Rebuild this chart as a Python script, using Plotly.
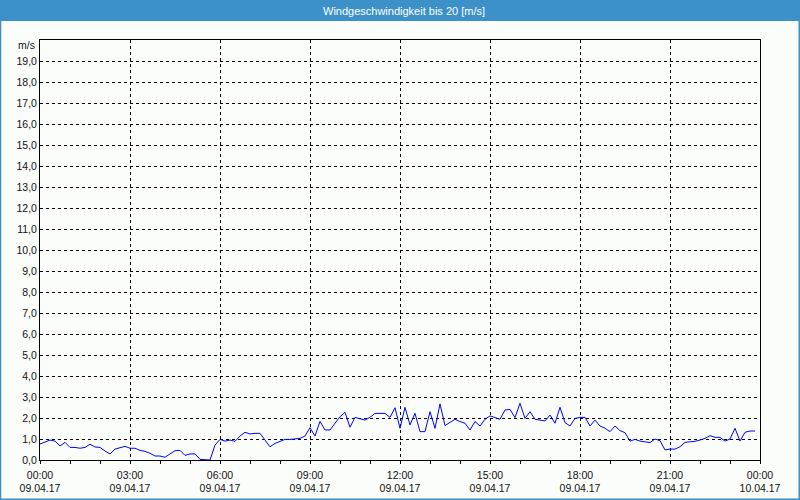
import pandas as pd
import plotly.graph_objects as go

# 10-minute wind speed readings, 09.04.17 00:00 .. 23:50
start_time = "2017-04-09 00:00"
wind_speed = [
    0.76, 0.87, 0.95, 0.90, 0.67, 0.84, 0.60, 0.60, 0.56, 0.60,
    0.75, 0.62, 0.60, 0.43, 0.29, 0.52, 0.60, 0.65, 0.56, 0.56,
    0.46, 0.41, 0.32, 0.19, 0.19, 0.13, 0.29, 0.44, 0.46, 0.22,
    0.29, 0.29, 0.03, 0.00, 0.00, 0.71, 0.98, 0.90, 0.95, 0.89,
    1.14, 1.32, 1.24, 1.27, 1.27, 0.95, 0.63, 0.79, 0.90, 0.98,
    0.98, 1.00, 1.03, 1.14, 1.54, 1.14, 1.84, 1.43, 1.43, 1.75,
    2.06, 2.27, 1.56, 2.03, 1.95, 1.90, 2.03, 2.22, 2.22, 2.22,
    2.03, 2.49, 1.51, 2.51, 1.67, 2.22, 1.35, 1.35, 2.30, 1.51,
    2.67, 1.64, 1.79, 1.94, 1.83, 1.75, 1.43, 1.83, 1.62, 1.94,
    2.10, 2.02, 1.94, 2.38, 2.41, 2.02, 2.70, 1.98, 2.30, 1.94,
    1.90, 1.86, 2.14, 1.75, 2.51, 1.78, 1.62, 1.98, 2.03, 2.03,
    1.62, 1.90, 1.62, 1.51, 1.35, 1.62, 1.40, 1.30, 0.90, 0.98,
    0.90, 0.87, 0.83, 1.00, 0.92, 0.48, 0.52, 0.52, 0.63, 0.84,
    0.86, 0.89, 0.95, 1.03, 1.16, 1.08, 1.08, 0.90, 1.00, 1.51,
    0.90, 1.32, 1.38, 1.38,
]
times = pd.date_range(start_time, periods=len(wind_speed), freq="10min")

y_ticks = list(range(0, 20))
title_text = "Windgeschwindigkeit bis 20 [m/s]"
unit_text = "m/s"

BLUE = "#3c91c8"
BG = "#fbfdfb"
FONT = "Tahoma, Liberation Sans, Arial, sans-serif"

fig = go.Figure()
fig.add_trace(go.Scatter(
    x=times, y=wind_speed, mode="lines",
    line=dict(color="#0000ff", width=1),
    hoverinfo="skip", showlegend=False,
))

W, H = 800, 500
L, R, T, B = 40, 40, 40, 40
pw, ph = W - L - R, H - T - B


def px(xp):
    return (xp - L) / pw


def py(yp):
    return (H - B - yp) / ph


fig.update_layout(
    width=W, height=H,
    margin=dict(l=L, r=R, t=T, b=B, autoexpand=False),
    paper_bgcolor=BG, plot_bgcolor=BG,
    separators=",.",
    font=dict(family=FONT, size=10, color="#111111"),
    showlegend=False,
    xaxis=dict(
        type="date",
        range=["2017-04-09 00:00", "2017-04-10 00:00"],
        dtick=3 * 3600 * 1000,
        tick0="2017-04-09 00:00",
        tickformat="%H:%M<br>%d.%m.%y",
        showgrid=True, gridcolor="#000000", gridwidth=1, griddash="dot",
        showline=True, linecolor="#000000", linewidth=1, mirror=True,
        ticks="outside", ticklen=3, tickcolor="#000000",
        minor=dict(dtick=3600 * 1000, ticks="outside", ticklen=3,
                   tickcolor="#000000", showgrid=False),
        zeroline=False, fixedrange=True, automargin=False,
        ticklabelstandoff=2,
        tickfont=dict(family=FONT, size=10.5, color="#111111"),
    ),
    yaxis=dict(
        range=[0, 20],
        tickvals=y_ticks,
        tickformat=".1f",
        showgrid=True, gridcolor="#000000", gridwidth=1, griddash="dot",
        showline=True, linecolor="#000000", linewidth=1, mirror=True,
        ticks="", zeroline=False, fixedrange=True, automargin=False,
        tickfont=dict(family=FONT, size=10.5, color="#111111"),
    ),
    shapes=[
        dict(type="rect", xref="paper", yref="paper",
             x0=px(0), x1=px(W), y0=py(21), y1=py(0),
             fillcolor=BLUE, line=dict(width=0), layer="above"),
        dict(type="rect", xref="paper", yref="paper",
             x0=px(0.5), x1=px(W - 0.75), y0=py(H - 0.75), y1=py(0.5),
             fillcolor="rgba(0,0,0,0)", line=dict(color=BLUE, width=1.5),
             layer="above"),
    ],
    annotations=[
        dict(text=title_text, xref="paper", yref="paper",
             x=px(404), y=py(10.5), xanchor="center", yanchor="middle",
             showarrow=False, font=dict(family=FONT, size=11, color="#ffffff")),
        dict(text=unit_text, xref="paper", yref="paper",
             x=px(37), y=py(45), xanchor="right", yanchor="middle",
             showarrow=False, font=dict(family=FONT, size=10.5, color="#111111")),
    ],
)

fig.write_html(
    "out.html",
    config={"displayModeBar": False, "staticPlot": True},
    post_script="document.body.style.margin='0';document.body.style.overflow='hidden';",
)
